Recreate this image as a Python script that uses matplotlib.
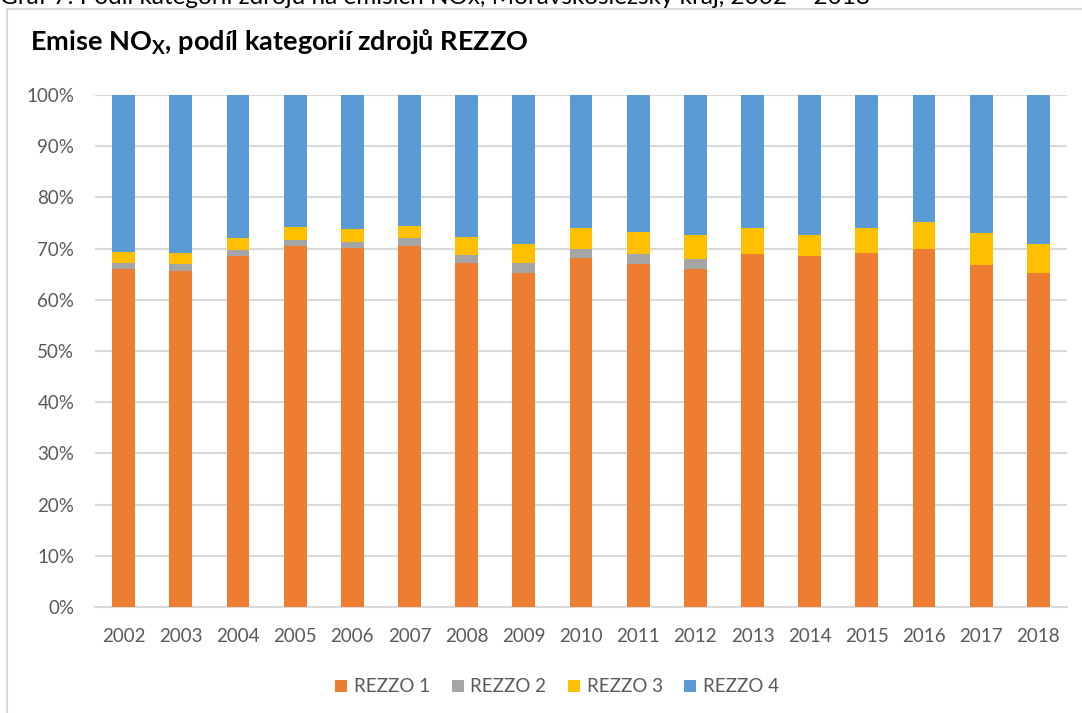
import matplotlib
matplotlib.use("Agg")
import matplotlib.pyplot as plt
import numpy as np
from matplotlib.patches import Rectangle, Patch

years = ["2002", "2003", "2004", "2005", "2006", "2007", "2008", "2009", "2010",
         "2011", "2012", "2013", "2014", "2015", "2016", "2017", "2018"]
rezzo1 = [66.0, 65.7, 68.6, 70.6, 70.2, 70.6, 67.2, 65.3, 68.1,
          66.9, 66.0, 69.0, 68.6, 69.2, 69.9, 66.7, 65.3]
rezzo2 = [1.1, 1.2, 1.1, 1.1, 1.1, 1.4, 1.55, 1.8, 1.8,
          2.1, 2.0, 0.0, 0.0, 0.0, 0.0, 0.0, 0.0]
rezzo3 = [2.3, 2.3, 2.4, 2.5, 2.6, 2.4, 3.55, 3.8, 4.1,
          4.2, 4.7, 5.0, 4.1, 4.8, 5.2, 6.3, 5.6]
rezzo4 = [100 - a - b - c for a, b, c in zip(rezzo1, rezzo2, rezzo3)]
series_names = ["REZZO 1", "REZZO 2", "REZZO 3", "REZZO 4"]
colors = ["#ED7D31", "#A5A5A5", "#FFC000", "#5B9BD5"]
yticks = [0, 10, 20, 30, 40, 50, 60, 70, 80, 90, 100]
title_caption = "Graf 7: Podíl kategorií zdrojů na emisích NOx, Moravskoslezský kraj, 2002 – 2018"

plt.rcParams['font.family'] = ['Lato', 'DejaVu Sans']
plt.rcParams['mathtext.default'] = 'regular'

W, H = 1082, 713
fig = plt.figure(figsize=(W / 100, H / 100), dpi=100)

# chart frame
fig.patches.append(Rectangle((7 / W, -0.05), 1.2, 1 - 9 / H + 0.05, transform=fig.transFigure,
                             facecolor="white", edgecolor="#d9d9d9", linewidth=1.5, zorder=-5))

# cut-off caption at the very top
fig.text(0.0, 1 - 4 / H, title_caption, fontsize=17.5, color="#000000",
         ha="left", va="baseline")

ax = fig.add_axes([95 / W, 1 - 607 / H, (1067 - 95) / W, (607 - 95) / H])
ax.set_zorder(2)
ax.set_facecolor("none")
x = np.arange(len(years))
bottom = np.zeros(len(years))
for vals, name, col in zip([rezzo1, rezzo2, rezzo3, rezzo4], series_names, colors):
    ax.bar(x, vals, width=0.4, bottom=bottom, color=col, label=name, zorder=3)
    bottom = bottom + np.array(vals)

ax.set_xlim(-0.5, len(years) - 0.5)
ax.set_ylim(0, 100)
ax.set_yticks(yticks)
ax.set_yticklabels([f"{t}%" for t in yticks])
ax.set_xticks(x)
ax.set_xticklabels(years)
ax.grid(axis="y", color="#d9d9d9", linewidth=1.5, zorder=0)
ax.set_axisbelow(True)
for s in ["top", "right", "left"]:
    ax.spines[s].set_visible(False)
ax.spines["bottom"].set_color("#d9d9d9")
ax.spines["bottom"].set_linewidth(1.5)
ax.tick_params(axis="both", length=0, labelsize=13.5, colors="#595959")
ax.tick_params(axis="y", pad=15)
ax.tick_params(axis="x", pad=15)

fig.text(30 / W, 1 - 50.5 / H, "Emise NO$_{X}$, podíl kategorií zdrojů REZZO", fontsize=19.5,
         fontweight="bold", color="#000000", ha="left", va="baseline")

handles = [Patch(facecolor=c, label=n) for c, n in zip(colors, series_names)]
fig.legend(handles=handles, loc="center", bbox_to_anchor=(557 / W, 1 - 687 / H), ncol=4,
           frameon=False, fontsize=13.5, handlelength=0.65, handleheight=0.65,
           handletextpad=0.35, columnspacing=1.15, labelcolor="#595959")

fig.savefig("out.png", dpi=100)
